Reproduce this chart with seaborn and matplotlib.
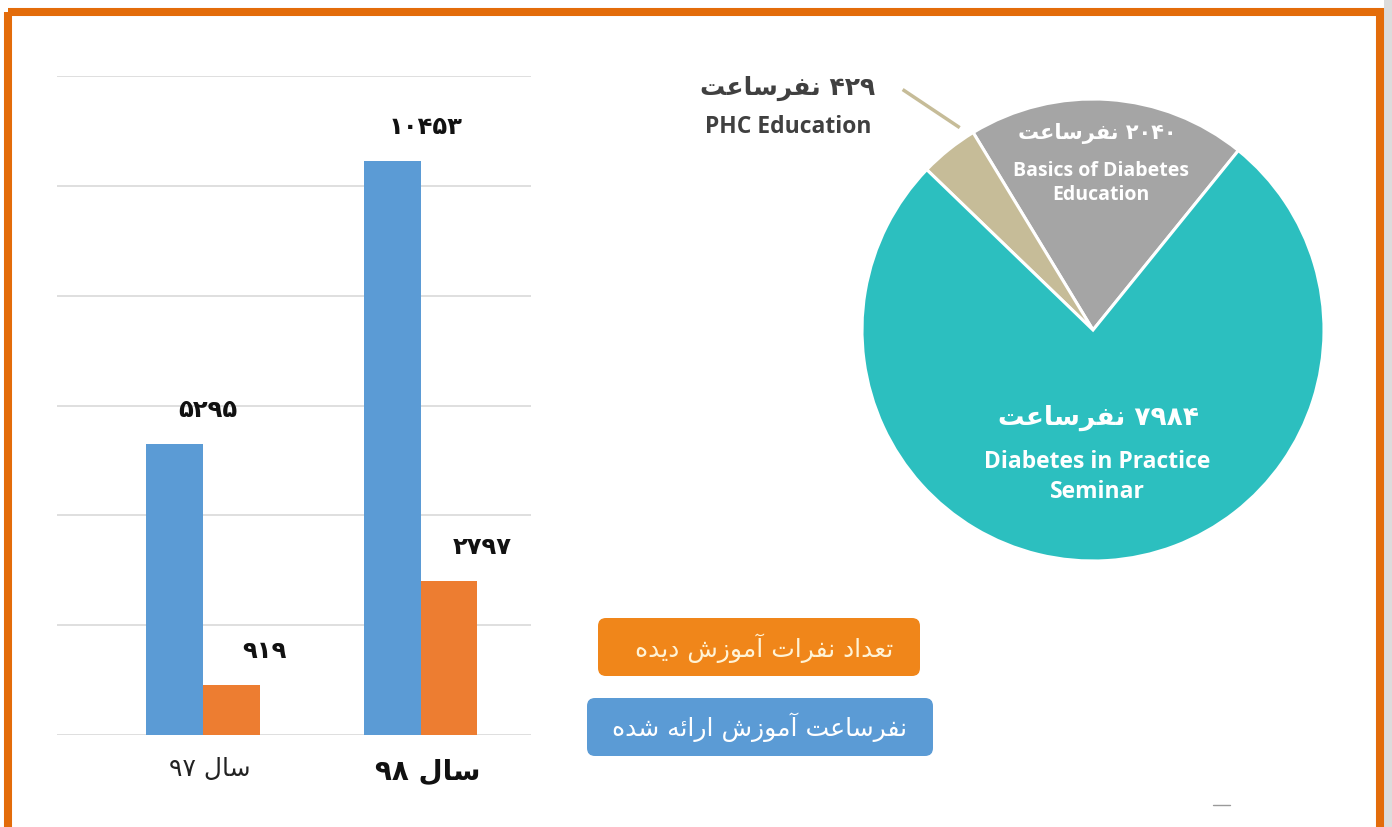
import re
import pandas as pd
import seaborn as sns
import matplotlib.pyplot as plt
import matplotlib.transforms as mtransforms
from matplotlib.patches import Rectangle, FancyBboxPatch

# داده ها
years = ['سال ۹۷', 'سال ۹۸']
series = ['نفرساعت آموزش ارائه شده', 'تعداد نفرات آموزش دیده']
hours = [5295, 10453]
people = [919, 2797]

pie_values = [2040, 429, 7984]
pie_unit = 'نفرساعت'
pie_names = ['Basics of Diabetes\nEducation', 'PHC Education', 'Diabetes in Practice\nSeminar']

blue = '#5B9BD5'
orange = '#ED7D31'
pie_colors = ['#A5A5A5', '#C6BC98', '#2CBFBF']
frame_color = '#E36C0A'

# matplotlib no shaping -> presentation forms by hand (iso, fin, ini, med)
FORMS = {
    'ا': ('\uFE8D', '\uFE8E', None, None),
    'آ': ('\uFE81', '\uFE82', None, None),
    'د': ('\uFEA9', '\uFEAA', None, None),
    'ر': ('\uFEAD', '\uFEAE', None, None),
    'ز': ('\uFEAF', '\uFEB0', None, None),
    'و': ('\uFEED', '\uFEEE', None, None),
    'ت': ('\uFE95', '\uFE96', '\uFE97', '\uFE98'),
    'س': ('\uFEB1', '\uFEB2', '\uFEB3', '\uFEB4'),
    'ش': ('\uFEB5', '\uFEB6', '\uFEB7', '\uFEB8'),
    'ع': ('\uFEC9', '\uFECA', '\uFECB', '\uFECC'),
    'ف': ('\uFED1', '\uFED2', '\uFED3', '\uFED4'),
    'ل': ('\uFEDD', '\uFEDE', '\uFEDF', '\uFEE0'),
    'م': ('\uFEE1', '\uFEE2', '\uFEE3', '\uFEE4'),
    'ن': ('\uFEE5', '\uFEE6', '\uFEE7', '\uFEE8'),
    'ه': ('\uFEE9', '\uFEEA', '\uFEEB', '\uFEEC'),
    'ی': ('\uFBFC', '\uFBFD', '\uFEF3', '\uFEF4'),
    'ئ': ('\uFE89', '\uFE8A', '\uFE8B', '\uFE8C'),
}


def shape(word):
    out = []
    for i, c in enumerate(word):
        f = FORMS[c]
        prev = word[i - 1] if i > 0 else None
        nxt = word[i + 1] if i < len(word) - 1 else None
        jp = prev in FORMS and FORMS[prev][2] is not None
        jn = nxt in FORMS and f[2] is not None
        if jp and jn:
            out.append(f[3])
        elif jp:
            out.append(f[1])
        elif jn:
            out.append(f[2])
        else:
            out.append(f[0])
    return ''.join(out)


def fa(s):
    tokens = re.findall(r'[\u0600-\u06EF\u06FA-\u06FF]+|[\u06F0-\u06F9]+|\s+|[^\s]+', s)
    res = []
    for t in reversed(tokens):
        if re.match(r'[\u0600-\u06EF\u06FA-\u06FF]', t):
            res.append(shape(t)[::-1])
        else:
            res.append(t)
    return ''.join(res)


def fa_num(n):
    return ''.join('۰۱۲۳۴۵۶۷۸۹'[int(d)] for d in str(n))


df = pd.DataFrame({
    'year': [fa(y) for y in years] * 2,
    'series': [series[0]] * 2 + [series[1]] * 2,
    'value': hours + people,
})

sns.set_style('white')
plt.rcParams['font.family'] = ['DejaVu Sans']

W, H = 1392, 827
fig = plt.figure(figsize=(W / 100, H / 100), dpi=100)
fig.patch.set_facecolor('white')

# نمودار میله ای
ax = fig.add_axes([57 / W, (H - 735) / H, 474 / W, 659 / H])
sns.barplot(data=df, x='year', y='value', hue='series', hue_order=series,
            palette=[blue, orange], width=0.52, saturation=1, legend=False,
            linewidth=0, ax=ax)
ax.set_ylim(0, 12000)
ax.set_xlim(-0.671, 1.507)
ax.set_yticks(range(0, 12001, 2000))
ax.yaxis.grid(True, color='#D9D9D9', linewidth=1.2)
ax.set_axisbelow(True)
ax.set_yticklabels([])
ax.set_xlabel('')
ax.set_ylabel('')
sns.despine(ax=ax, left=True, bottom=True)
ax.tick_params(axis='both', length=0)
ax.tick_params(axis='x', pad=16)
lbls = ax.get_xticklabels()
lbls[0].set_fontsize(18)
lbls[0].set_color('#222222')
lbls[1].set_fontsize(20)
lbls[1].set_fontweight('bold')
lbls[1].set_color('#111111')
shift = mtransforms.ScaledTranslation(0.07, 0, fig.dpi_scale_trans)
for lb in lbls:
    lb.set_transform(lb.get_transform() + shift)

for cont, vals in zip(ax.containers, [hours, people]):
    for bar, v in zip(cont, vals):
        ax.annotate(fa_num(v), (bar.get_x() + bar.get_width() / 2, bar.get_height()),
                    xytext=(33, 34), textcoords='offset pixels', ha='center', va='center',
                    fontsize=17.5, fontweight='bold', color='#111111', annotation_clip=False)

# نمودار دایره ای
r = 231
pax = fig.add_axes([(1093 - r) / W, (H - 330 - r) / H, 2 * r / W, 2 * r / H])
pax.pie(pie_values, colors=pie_colors, startangle=51, counterclock=True,
        wedgeprops=dict(edgecolor='white', linewidth=2.2))
pax.set_xlim(-1, 1)
pax.set_ylim(-1, 1)
pax.plot([-0.824, -0.577], [1.041, 0.876], color=pie_colors[1], lw=2.5, clip_on=False,
         solid_capstyle='butt')

# لایه بالایی: قاب، برچسب ها و راهنما
ov = fig.add_axes([0, 0, 1, 1], zorder=10)
ov.set_xlim(0, W)
ov.set_ylim(H, 0)
ov.axis('off')
ov.patch.set_visible(False)

ov.add_patch(Rectangle((1384, 0), 8, H, facecolor='#DCDCDC', edgecolor='none'))
ov.add_patch(Rectangle((7.5, 12), 1372.5, 900, facecolor='none', edgecolor=frame_color, linewidth=5.8))

eng = ['Open Sans', 'DejaVu Sans']
ov.text(1097, 133, fa(fa_num(pie_values[0]) + ' ' + pie_unit), ha='center', va='center',
        fontsize=15, color='white', fontweight='bold')
ov.text(1101, 183, pie_names[0], ha='center', va='center', fontsize=14, color='white',
        fontweight='bold', family=eng, linespacing=1.3)
ov.text(788, 88, fa(fa_num(pie_values[1]) + ' ' + pie_unit), ha='center', va='center',
        fontsize=18, color='#404040', fontweight='bold')
ov.text(788, 127, pie_names[1], ha='center', va='center', fontsize=16.5, color='#404040',
        fontweight='bold', family=eng)
ov.text(1098, 418, fa(fa_num(pie_values[2]) + ' ' + pie_unit), ha='center', va='center',
        fontsize=19, color='white', fontweight='bold')
ov.text(1097, 477, pie_names[2], ha='center', va='center', fontsize=16.5, color='white',
        fontweight='bold', family=eng, linespacing=1.3)

# راهنما
ov.add_patch(FancyBboxPatch((604, 624), 310, 46, boxstyle='round,pad=6,rounding_size=8',
                            facecolor='#F0861A', edgecolor='none'))
ov.text(764, 648, fa(series[1]), ha='center', va='center', fontsize=18, color='#FFF3D6')
ov.add_patch(FancyBboxPatch((593, 704), 334, 46, boxstyle='round,pad=6,rounding_size=8',
                            facecolor=blue, edgecolor='none'))
ov.text(759, 727, fa(series[0]), ha='center', va='center', fontsize=18, color='white')

ov.plot([1213, 1230], [805, 805], color='#9A9A9A', lw=1)

fig.savefig('out.png', dpi=100, facecolor='white')
